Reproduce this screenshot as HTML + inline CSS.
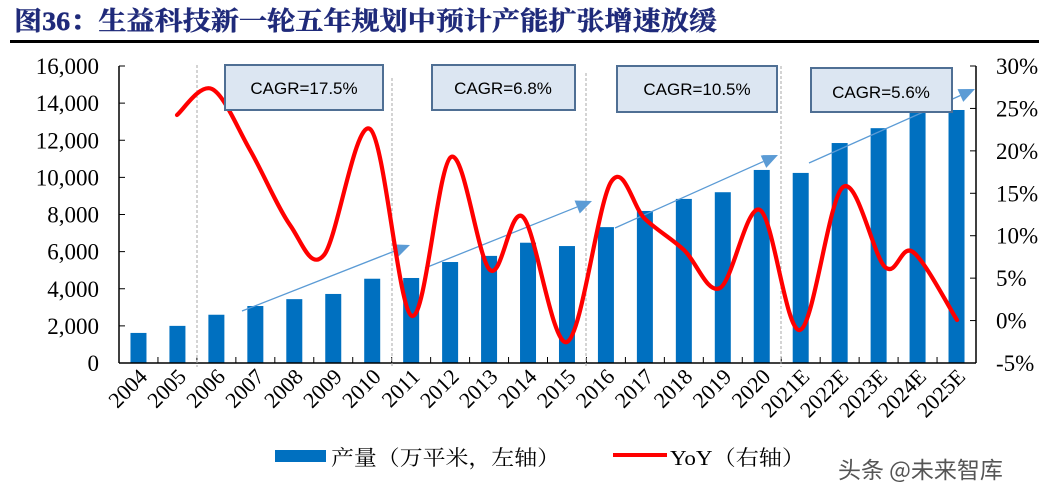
<!DOCTYPE html>
<html><head><meta charset="utf-8"><style>
body{margin:0;background:#fff;width:1039px;height:495px;overflow:hidden}
svg{display:block}
</style></head><body>
<svg id="s" width="1039" height="495" xmlns="http://www.w3.org/2000/svg" font-family="'Liberation Serif','Noto Serif CJK SC',serif">
<text x="14" y="30" font-size="26" font-weight="bold" fill="#1f2a7a" stroke="#1f2a7a" stroke-width="0.4" font-family="'Liberation Serif','Noto Serif CJK SC',serif" textLength="703" lengthAdjust="spacingAndGlyphs">图36：生益科技新一轮五年规划中预计产能扩张增速放缓</text>
<rect x="10" y="40" width="1029" height="3" fill="#000"/>
<g id="bars" fill="#0070c0"></g>
<g stroke="#000" stroke-width="1.5" fill="none">
<line x1="119" y1="66" x2="119" y2="363"/>
<line x1="119" y1="363" x2="976" y2="363"/>
<line x1="976" y1="66" x2="976" y2="363"/>
</g>
<g id="ticks" stroke="#000" stroke-width="1"></g>
<g stroke="#aaa" stroke-width="1" stroke-dasharray="3,2">
<line x1="197" y1="65" x2="197" y2="367"/><line x1="392" y1="78" x2="392" y2="367"/>
<line x1="586" y1="73" x2="586" y2="367"/><line x1="781" y1="66" x2="781" y2="367"/>
</g>
<g font-size="23" fill="#000" id="ylab" text-anchor="end"></g>
<g font-size="23" fill="#000" id="rlab"></g>
<g id="xlab" font-size="22" fill="#000" text-anchor="end"></g>
<g stroke="#5b9bd5" stroke-width="1.3" fill="#5b9bd5" id="arrows"></g>
<path id="red" fill="none" stroke="#ff0000" stroke-width="4.2" stroke-linejoin="round" stroke-linecap="round"/>
<g fill="#dce6f2" stroke="#4f6f94" stroke-width="2">
<rect x="225" y="65" width="158" height="45"/><rect x="432" y="65" width="143" height="45"/>
<rect x="617" y="66" width="160" height="46"/><rect x="811" y="68" width="141" height="44"/>
</g>
<g font-family="'Liberation Sans','DejaVu Sans',sans-serif" font-size="17" fill="#000" text-anchor="middle">
<text x="304" y="94">CAGR=17.5%</text><text x="503" y="94">CAGR=6.8%</text>
<text x="697" y="95">CAGR=10.5%</text><text x="881" y="98">CAGR=5.6%</text>
</g>
<rect x="275" y="450" width="51" height="12" fill="#0070c0"/>
<text x="331" y="465" font-size="21" textLength="229" lengthAdjust="spacingAndGlyphs" font-family="'Liberation Serif','Noto Serif CJK SC',serif">产量（万平米，左轴）</text>
<line x1="613" y1="455" x2="667" y2="455" stroke="#ff0000" stroke-width="4"/>
<text x="670" y="465" font-size="21" textLength="135" lengthAdjust="spacingAndGlyphs" font-family="'Liberation Serif','Noto Serif CJK SC',serif">YoY（右轴）</text>
<text x="838" y="478" font-size="23" fill="#555" font-family="'Noto Sans CJK SC',sans-serif">头条 @未来智库</text>
</svg>
<script>
var NS="http://www.w3.org/2000/svg";
function el(p,t,a,txt){var e=document.createElementNS(NS,t);for(var k in a)e.setAttribute(k,a[k]);if(txt)e.textContent=txt;document.getElementById(p).appendChild(e);return e;}
var vals=[1620,2000,2600,3070,3440,3720,4540,4580,5440,5770,6480,6300,7320,8190,8840,9200,10400,10240,11850,12650,13700,13630];
var labs=["2004","2005","2006","2007","2008","2009","2010","2011","2012","2013","2014","2015","2016","2017","2018","2019","2020","2021E","2022E","2023E","2024E","2025E"];
var cw=(976-119)/22;
for(var i=0;i<22;i++){var cx=119+cw*(i+0.5),h=vals[i]*297/16000;
el("bars","rect",{x:cx-8,y:363-h,width:16,height:h});
el("xlab","text",{x:cx+10,y:378,transform:"rotate(-45 "+(cx+10)+" 378)"},labs[i]);
var tx=119+cw*(i+1);el("ticks","line",{x1:tx,y1:363,x2:tx,y2:357});}
for(var j=0;j<=8;j++){var y=363-j*297/8;el("ticks","line",{x1:119,y1:y,x2:125,y2:y});
el("ylab","text",{x:99,y:y+8},(j*2000).toLocaleString("en-US"));}
for(var j=0;j<=7;j++){var y=363-j*297/7;el("ticks","line",{x1:976,y1:y,x2:970,y2:y});
el("rlab","text",{x:996,y:y+8},(j*5-5)+"%");}
var pts=[[177,115],[212,89],[250,150],[290,225],[324,255],[370,129],[412,316],[451,157],[490,270],[523,217],[567,342],[611,182],[645,219],[684,250],[720,288],[760,210],[800,330],[843,187],[885,267],[913,252],[957,320]];
var d="M"+pts[0][0]+","+pts[0][1];
for(var i=0;i<pts.length-1;i++){var p0=pts[Math.max(0,i-1)],p1=pts[i],p2=pts[i+1],p3=pts[Math.min(pts.length-1,i+2)];
d+=" C"+(p1[0]+(p2[0]-p0[0])/6)+","+(p1[1]+(p2[1]-p0[1])/6)+" "+(p2[0]-(p3[0]-p1[0])/6)+","+(p2[1]-(p3[1]-p1[1])/6)+" "+p2[0]+","+p2[1];}
document.getElementById("red").setAttribute("d",d);
var ar=[[242,311,410,245],[425,268,592,201],[615,228,778,155],[809,163,975,89]];
ar.forEach(function(a){var dx=a[2]-a[0],dy=a[3]-a[1],L=Math.sqrt(dx*dx+dy*dy),ux=dx/L,uy=dy/L,bx=a[2]-ux*16,by=a[3]-uy*16;
el("arrows","line",{x1:a[0],y1:a[1],x2:bx,y2:by});
el("arrows","polygon",{points:a[2]+","+a[3]+" "+(bx-uy*7)+","+(by+ux*7)+" "+(bx+uy*7)+","+(by-ux*7),stroke:"none"});});
</script>
</body></html>
